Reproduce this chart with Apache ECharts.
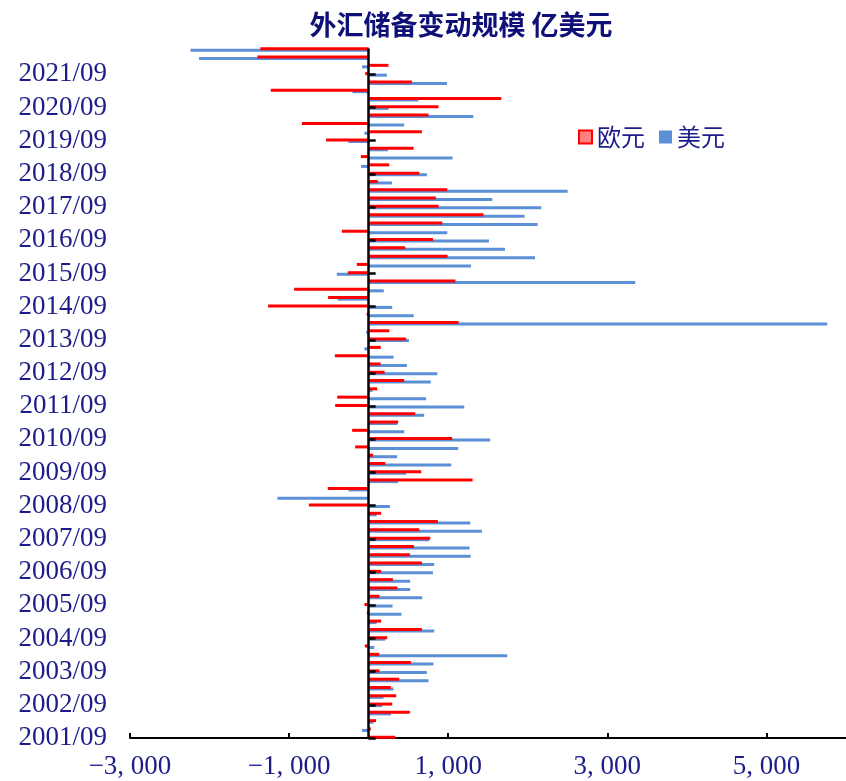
<!DOCTYPE html>
<html>
<head>
<meta charset="utf-8">
<title>外汇储备变动规模</title>
<script src="https://cdn.jsdelivr.net/npm/echarts@6/dist/echarts.min.js"></script>
<style>
  html, body { margin: 0; padding: 0; background: #ffffff; }
  #chart { width: 846px; height: 781px; }
</style>
</head>
<body>
<div id="chart"></div>
<script>
// Quarter-end labels, oldest first (bottom of the chart)
const quarters = [
  '2001/09','2001/12','2002/03','2002/06','2002/09','2002/12','2003/03','2003/06',
  '2003/09','2003/12','2004/03','2004/06','2004/09','2004/12','2005/03','2005/06',
  '2005/09','2005/12','2006/03','2006/06','2006/09','2006/12','2007/03','2007/06',
  '2007/09','2007/12','2008/03','2008/06','2008/09','2008/12','2009/03','2009/06',
  '2009/09','2009/12','2010/03','2010/06','2010/09','2010/12','2011/03','2011/06',
  '2011/09','2011/12','2012/03','2012/06','2012/09','2012/12','2013/03','2013/06',
  '2013/09','2013/12','2014/03','2014/06','2014/09','2014/12','2015/03','2015/06',
  '2015/09','2015/12','2016/03','2016/06','2016/09','2016/12','2017/03','2017/06',
  '2017/09','2017/12','2018/03','2018/06','2018/09','2018/12','2019/03','2019/06',
  '2019/09','2019/12','2020/03','2020/06','2020/09','2020/12','2021/03','2021/06',
  '2021/09','2021/12','2022/03','2022/06'
];

// Quarterly change, 亿美元 — euro
const eurChange = [
  333, 27, 92, 518, 296, 346, 279, 384,
  136, 531, 132, -48, 233, 669, 157, -23,
  -53, 136, 362, 304, 157, 669, 518, 568,
  774, 635, 870, 157, -752, 0, -514, 1306,
  660, 208, 57, -170, 1050, -208, 371, 585,
  -421, -396, 107, 446, 200, 150, -425, 152,
  471, 260, 1130, -25, -1264, -510, -937, 1090,
  -262, -149, 992, 459, 808, -337, 925, 1444,
  878, 845, 988, 115, 635, 258, -98, 564,
  -535, 669, -840, 752, 878, 1667, -1231, 543,
  -44, 249, -1399, -1362
];

// Quarterly change, 亿美元 — US dollar
const usdChange = [
  0, -84, 60, 281, 172, 186, 312, 753,
  732, 815, 1742, 71, 208, 824, 100, 413,
  300, 673, 522, 522, 807, 824, 1281, 1268,
  760, 1424, 1277, 100, 267, -1147, -254, 367,
  472, 1038, 358, 1126, 1528, 447, 360, 698,
  1202, 723, 50, 780, 862, 480, 313, -54,
  506, -31, 5764, 566, 296, -390, 190, 3350,
  -400, 1286, 2091, 1713, 1512, 988, 2124, 1960,
  2170, 1554, 2501, 292, 732, -94, 1054, 241,
  -254, -53, 447, 1315, 250, 625, -204, 984,
  229, -82, -2132, -2240
];

// Value-axis tick positions
const xTicks = [-3000, -1000, 1000, 3000, 5000];

const navy = '#1c1c8a';
const serif = '"Liberation Serif", "DejaVu Serif", serif';
const cjk = '"Noto Sans CJK SC", sans-serif';

function fmtThousands(v) {
  const sign = v < 0 ? '\u2212' : '';
  const a = Math.abs(v);
  const th = Math.floor(a / 1000);
  const rest = String(a % 1000).padStart(3, '0');
  return th > 0 ? sign + th + ', ' + rest : sign + a;
}

const chart = echarts.init(document.getElementById('chart'), null, { renderer: 'canvas' });

chart.setOption({
  animation: false,
  backgroundColor: '#ffffff',
  title: {
    text: '外汇储备变动规模 亿美元',
    left: 456,
    textAlign: 'center',
    top: 6,
    textStyle: { fontFamily: cjk, fontSize: 27, fontWeight: 'bold', color: '#0f0f78' }
  },
  legend: {
    left: 573,
    top: 120,
    itemWidth: 13,
    itemHeight: 13,
    itemGap: 14,
    icon: 'rect',
    textStyle: { fontFamily: cjk, fontSize: 24, color: navy },
    data: [
      { name: '欧元', itemStyle: { color: '#ff8080', borderColor: '#ff0000', borderWidth: 2 } },
      { name: '美元' }
    ]
  },
  grid: { left: 130, right: 0, top: 49.5, bottom: 43, containLabel: false },
  xAxis: {
    type: 'value',
    min: -3000,
    max: 6000,
    position: 'bottom',
    axisLine: { show: true, onZero: false, lineStyle: { color: '#000000', width: 2 } },
    axisTick: { show: true, inside: true, length: 5, customValues: xTicks, lineStyle: { color: '#000000', width: 2 } },
    axisLabel: {
      customValues: xTicks,
      formatter: fmtThousands,
      fontFamily: serif,
      fontSize: 27,
      color: navy,
      margin: 15
    },
    splitLine: { show: false }
  },
  yAxis: [
    {
      type: 'category',
      data: quarters,
      boundaryGap: false,
      position: 'left',
      axisLine: { show: true, onZero: true, lineStyle: { color: '#000000', width: 2.5 } },
      axisTick: { show: true, inside: true, length: 7, interval: 3, lineStyle: { color: '#000000', width: 2.5 } },
      axisLabel: { show: false },
      splitLine: { show: false },
      z: 10
    },
    {
      type: 'category',
      data: quarters,
      boundaryGap: false,
      position: 'left',
      axisLine: { show: false, onZero: false },
      axisTick: { show: false },
      axisLabel: {
        show: true,
        interval: 3,
        fontFamily: serif,
        fontSize: 27,
        color: navy,
        margin: 23
      },
      splitLine: { show: false }
    }
  ],
  series: [
    {
      name: '欧元',
      type: 'bar',
      yAxisIndex: 0,
      data: eurChange,
      barWidth: 3,
      barGap: '-50%',
      itemStyle: { color: '#ff0000' },
      clip: false,
      z: 3
    },
    {
      name: '美元',
      type: 'bar',
      yAxisIndex: 0,
      data: usdChange,
      barWidth: 3,
      barGap: '-50%',
      itemStyle: { color: '#5b8fd6' },
      clip: false,
      z: 2
    }
  ]
});
</script>
</body>
</html>
